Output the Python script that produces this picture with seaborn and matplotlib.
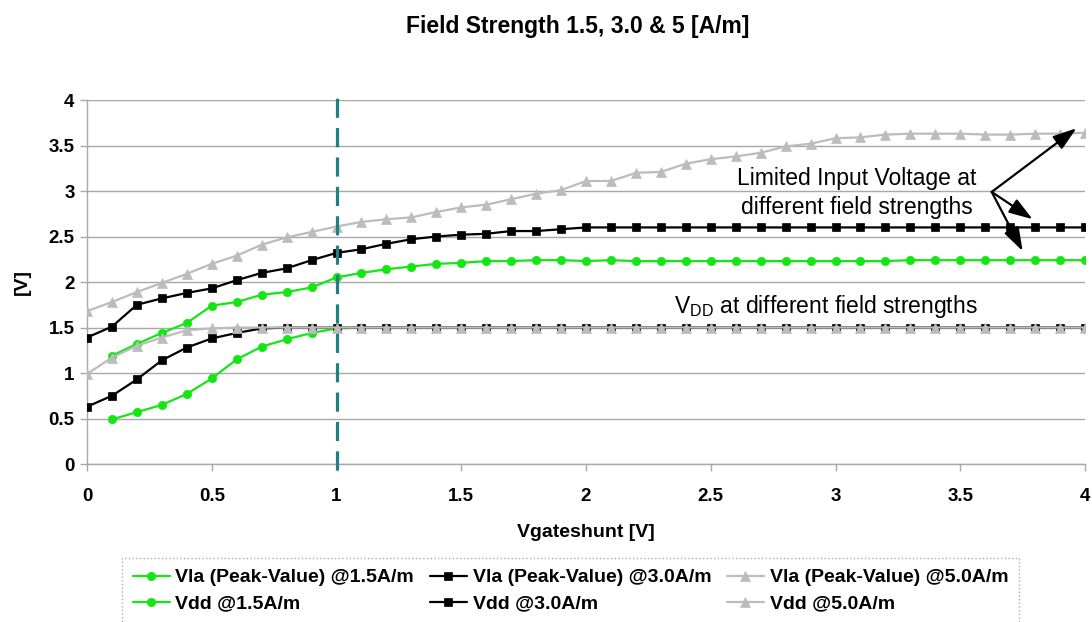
import numpy as np
import seaborn as sns
import matplotlib.pyplot as plt
from matplotlib.ticker import FuncFormatter

# x grid: Vgateshunt from 0 to 4 V in 0.1 V steps
vgate = np.round(np.arange(41) * 0.1, 1)

vla_15 = [np.nan, 1.19, 1.32, 1.44, 1.55, 1.74, 1.78, 1.86, 1.89, 1.94,
          2.05, 2.10, 2.14, 2.17, 2.20, 2.21, 2.23, 2.23, 2.24, 2.24,
          2.23, 2.24, 2.23, 2.23, 2.23, 2.23, 2.23, 2.23, 2.23, 2.23,
          2.23, 2.23, 2.23, 2.24, 2.24, 2.24, 2.24, 2.24, 2.24, 2.24, 2.24]
vla_30 = [1.39, 1.51, 1.75, 1.82, 1.88, 1.93, 2.02, 2.10, 2.15, 2.24,
          2.32, 2.36, 2.42, 2.47, 2.50, 2.52, 2.53, 2.56, 2.56, 2.58,
          2.60, 2.60, 2.60, 2.60, 2.60, 2.60, 2.60, 2.60, 2.60, 2.60,
          2.60, 2.60, 2.60, 2.60, 2.60, 2.60, 2.60, 2.60, 2.60, 2.60, 2.60]
vla_50 = [1.68, 1.78, 1.89, 1.99, 2.09, 2.20, 2.29, 2.41, 2.49, 2.55,
          2.61, 2.66, 2.69, 2.71, 2.77, 2.82, 2.85, 2.91, 2.97, 3.01,
          3.11, 3.11, 3.20, 3.21, 3.30, 3.35, 3.38, 3.42, 3.49, 3.52,
          3.58, 3.59, 3.62, 3.63, 3.63, 3.63, 3.62, 3.62, 3.63, 3.63, 3.64]
vdd_15 = [np.nan, 0.49, 0.57, 0.65, 0.77, 0.94, 1.15, 1.29, 1.37, 1.44,
          1.49, 1.50, 1.50, 1.50, 1.50, 1.50, 1.50, 1.50, 1.50, 1.50,
          1.50, 1.50, 1.50, 1.50, 1.50, 1.50, 1.50, 1.50, 1.50, 1.50,
          1.50, 1.50, 1.50, 1.50, 1.50, 1.50, 1.50, 1.50, 1.50, 1.50, 1.50]
vdd_30 = [0.63, 0.75, 0.93, 1.14, 1.28, 1.38, 1.44, 1.49, 1.50, 1.50,
          1.50, 1.50, 1.50, 1.50, 1.50, 1.50, 1.50, 1.50, 1.50, 1.50,
          1.50, 1.50, 1.50, 1.50, 1.50, 1.50, 1.50, 1.50, 1.50, 1.50,
          1.50, 1.50, 1.50, 1.50, 1.50, 1.50, 1.50, 1.50, 1.50, 1.50, 1.50]
vdd_50 = [0.99, 1.17, 1.30, 1.39, 1.47, 1.49, 1.50, 1.50, 1.50, 1.50,
          1.50, 1.50, 1.50, 1.50, 1.50, 1.50, 1.50, 1.50, 1.50, 1.50,
          1.50, 1.50, 1.50, 1.50, 1.50, 1.50, 1.50, 1.50, 1.50, 1.50,
          1.50, 1.50, 1.50, 1.50, 1.50, 1.50, 1.50, 1.50, 1.50, 1.50, 1.50]

labels = ['Vla (Peak-Value) @1.5A/m', 'Vla (Peak-Value) @3.0A/m',
          'Vla (Peak-Value) @5.0A/m', 'Vdd @1.5A/m', 'Vdd @3.0A/m', 'Vdd @5.0A/m']

GREEN = '#14e614'
BLACK = '#000000'
GRAY = '#bcbcbc'
AXGRAY = '#a8a8a8'

sns.set_style('white')
plt.rcParams['font.family'] = ['Liberation Sans', 'DejaVu Sans']
plt.rcParams['text.color'] = 'black'
plt.rcParams['axes.labelcolor'] = 'black'

fig = plt.figure(figsize=(10.92, 6.22), dpi=100)
ax = fig.add_axes([0.0797, 0.254, 0.9139, 0.5852])

series = [
    (vla_15, GREEN, 'o', 6, labels[0]),
    (vla_30, BLACK, 's', 5.5, labels[1]),
    (vla_50, GRAY, '^', 7.5, labels[2]),
    (vdd_15, GREEN, 'o', 6, labels[3]),
    (vdd_30, BLACK, 's', 5.5, labels[4]),
    (vdd_50, GRAY, '^', 7.5, labels[5]),
]
for i, (vals, col, mk, ms, lab) in enumerate(series):
    sns.lineplot(x=vgate, y=vals, ax=ax, color=col, marker=mk, markersize=ms,
                 markeredgecolor=col, markeredgewidth=0.5, linewidth=1.6,
                 label=lab, zorder=3 + i)

ax.set_xlim(0, 4)
ax.set_ylim(0, 4)
ticks = [0, 0.5, 1, 1.5, 2, 2.5, 3, 3.5, 4]
ax.set_xticks(ticks)
ax.set_yticks(ticks)
fmt = FuncFormatter(lambda v, p: f'{v:g}')
ax.xaxis.set_major_formatter(fmt)
ax.yaxis.set_major_formatter(fmt)
for lab in ax.get_xticklabels() + ax.get_yticklabels():
    lab.set_fontweight('bold')
    lab.set_fontsize(13.5)
ax.tick_params(axis='x', length=5, width=1, color=AXGRAY, labelcolor='black',
               pad=12, direction='out', bottom=True)
ax.tick_params(axis='y', length=5, width=1, color=AXGRAY, labelcolor='black',
               pad=4, direction='out', left=True)

ax.grid(axis='y', color=AXGRAY, linewidth=1)
ax.grid(axis='x', visible=False)
for s in ['top', 'right']:
    ax.spines[s].set_visible(False)
for s in ['left', 'bottom']:
    ax.spines[s].set_color(AXGRAY)
    ax.spines[s].set_linewidth(1)

ax.set_xlabel('Vgateshunt [V]', fontsize=14, fontweight='bold', labelpad=14)
ax.set_ylabel('[V]', fontsize=14, fontweight='bold', labelpad=13)

# dashed marker at Vgateshunt = 1 V
ax.axvline(1, ymin=-0.017, ymax=1.025, color='#1f8080', linewidth=2.3,
           dashes=(6, 3.2), clip_on=False, zorder=10)

# annotations
ax.text(3.085, 2.98, 'Limited Input Voltage at\ndifferent field strengths',
        fontsize=16.5, ha='center', va='center', linespacing=1.3, zorder=12)
for tx, ty in [(3.966, 3.69), (3.79, 2.69), (3.75, 2.34)]:
    ax.annotate('', xy=(tx, ty), xytext=(3.626, 2.99),
                arrowprops=dict(arrowstyle='-|>,head_length=0.6,head_width=0.2',
                                color='black', lw=1.6,
                                mutation_scale=24, shrinkA=0, shrinkB=0),
                zorder=12)
ax.text(2.96, 1.73, r'V$_{\mathregular{DD}}$ at different field strengths',
        fontsize=16.5, ha='center', va='center', zorder=12)

fig.text(0.529, 1 - 26 / 622, 'Field Strength 1.5, 3.0 & 5 [A/m]',
         fontsize=16.5, fontweight='bold', ha='center', va='center')

# legend: first row Vla, second row Vdd
handles, hl = ax.get_legend_handles_labels()
ax.get_legend().remove()
order = [0, 3, 1, 4, 2, 5]
leg = fig.legend([handles[i] for i in order], [hl[i] for i in order], ncol=3,
                 loc='upper left', bbox_to_anchor=(122 / 1092, 1 - 558 / 622),
                 prop={'weight': 'bold', 'size': 14}, frameon=True,
                 fancybox=False, edgecolor='#999999', handlelength=1.9,
                 handletextpad=0.3, columnspacing=0.8, labelspacing=0.45,
                 borderpad=0.55, borderaxespad=0)
leg.get_frame().set_linestyle(':')
leg.get_frame().set_linewidth(1)

fig.savefig('out.png', dpi=100)
